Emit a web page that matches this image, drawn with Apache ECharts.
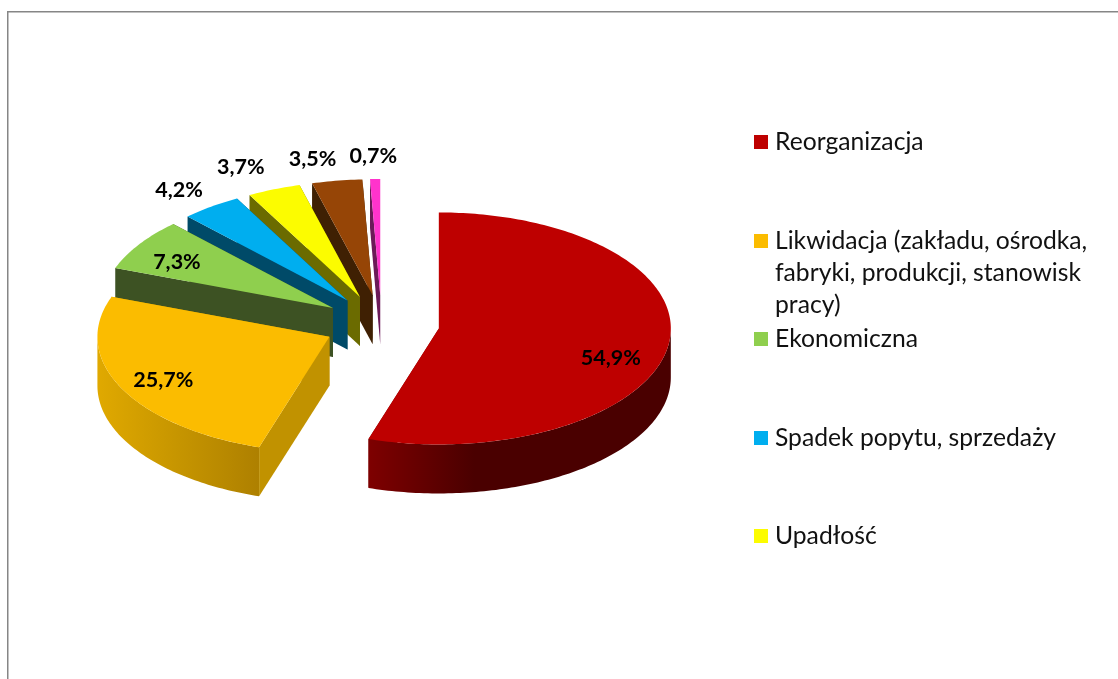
<!DOCTYPE html>
<html>
<head>
<meta charset="utf-8">
<script src="https://cdn.jsdelivr.net/npm/echarts@6/dist/echarts.min.js"></script>
<style>html,body{margin:0;padding:0;background:#fff}#c{width:1118px;height:679px}</style>
</head>
<body>
<div id="c"></div>
<script>
// Data. The reference legend only shows the first five names.
var categories = ['Reorganizacja', 'Likwidacja (zakładu, ośrodka, fabryki, produkcji, stanowisk pracy)', 'Ekonomiczna', 'Spadek popytu, sprzedaży', 'Upadłość'];
var values = [54.9, 25.7, 7.3, 4.2, 3.7, 3.5, 0.7];

// Styles
var topColors = ['#BE0000', '#FBBC00', '#8FCF4E', '#00AEEF', '#FCFC00', '#964506', '#FF33CC'];
var wallColors = ['#7A0000', '#C19200', '#3D5223', '#004A68', '#6B6B00', '#3F2003', '#6B1A58'];
var rimStops = [
  [[0, '#7E0000'], [0.35, '#4A0000'], [1, '#4A0000']],
  [[0, '#E0A900'], [0.5, '#C69500'], [1, '#AE8000']]
];
// Label position as fractions of the slice radius (horizontal, vertical)
var labelFractions = [[0.75, 1.66], [0.797, 0.84], [0.805, 0.73], [1.235, 1.18], [1.385, 1.205], [1.69, 1.19], [1.375, 1.20]];

// 3D projection layout
var CX = 381.5, CY = 324, RX = 232, RY = 116, DEPTH = 49, EXPLODE = 58;
var RAD = Math.PI / 180;

function pt(ox, oy, deg, dz) {
  return [ox + RX * Math.sin(deg * RAD), oy - RY * Math.cos(deg * RAD) + (dz || 0)];
}
function arc(ox, oy, a, b, dz) {
  var pts = [], n = Math.max(2, Math.ceil(Math.abs(b - a)));
  for (var i = 0; i <= n; i++) pts.push(pt(ox, oy, a + (b - a) * i / n, dz));
  return pts;
}
function fmt(v) { return v.toFixed(1).replace('.', ',') + '%'; }

function sliceRenderer(i) {
  return function (params, api) {
    var value = api.value(0);
    var total = values.reduce(function (s, v) { return s + v; }, 0);
    var before = values.slice(0, i).reduce(function (s, v) { return s + v; }, 0);
    var a0 = before / total * 360, a1 = a0 + value / total * 360, mid = (a0 + a1) / 2;
    var ox = CX + EXPLODE * Math.sin(mid * RAD);
    var oy = CY - EXPLODE * RY / RX * Math.cos(mid * RAD);
    var children = [];
    function face(deg) {
      var p = pt(ox, oy, deg);
      children.push({ type: 'polygon', shape: { points: [[ox, oy], p, [p[0], p[1] + DEPTH], [ox, oy + DEPTH]] }, style: { fill: wallColors[i] } });
    }
    face(a1); face(a0);
    var f0 = Math.max(a0, 90), f1 = Math.min(a1, 270);
    if (f1 > f0) {
      var stops = (rimStops[i] || [[0, wallColors[i]], [1, wallColors[i]]]).map(function (s) { return { offset: s[0], color: s[1] }; });
      children.push({
        type: 'polygon',
        shape: { points: arc(ox, oy, f0, f1, 0).concat(arc(ox, oy, f1, f0, DEPTH)) },
        style: { fill: new echarts.graphic.LinearGradient(0, 0, 1, 0, stops) }
      });
    }
    children.push({ type: 'polygon', shape: { points: [[ox, oy]].concat(arc(ox, oy, a0, a1, 0)) }, style: { fill: topColors[i] } });
    var lf = labelFractions[i];
    children.push({
      type: 'text', z2: 100,
      x: ox + RX * lf[0] * Math.sin(mid * RAD),
      y: oy - RY * lf[1] * Math.cos(mid * RAD),
      style: { text: fmt(value), fill: '#000', font: 'bold 21.5px Lato', align: 'center', verticalAlign: 'middle' }
    });
    return { type: 'group', children: children };
  };
}

// Painter order: back slices first
var series = values.map(function (v, i) {
  return {
    type: 'custom', name: categories[i] || ('slice ' + i), coordinateSystem: 'none', silent: true, clip: false,
    itemStyle: { color: topColors[i] }, animation: false,
    renderItem: sliceRenderer(i), data: [[v]]
  };
}).reverse();

var legendTops = [126, 161, 323, 422, 520];
var wrapped = { 1: '\n\nLikwidacja (zakładu, ośrodka,\nfabryki, produkcji, stanowisk\npracy)' };
var legends = categories.map(function (name, i) {
  return {
    data: [name], orient: 'vertical', left: 754, top: legendTops[i], padding: 0,
    itemWidth: 14, itemHeight: 14, icon: 'rect', selectedMode: false,
    formatter: function () { return wrapped[i] || name; },
    textStyle: { fontFamily: 'Lato', fontSize: 24.7, lineHeight: 32, color: '#111', padding: [0, 0, 0, 2] }
  };
});

var chart = echarts.init(document.getElementById('c'), null, { renderer: 'canvas' });
chart.setOption({
  backgroundColor: '#fff',
  animation: false,
  graphic: [{ type: 'rect', silent: true, shape: { x: 7.75, y: 11.75, width: 1300, height: 900 }, style: { fill: 'none', stroke: '#868686', lineWidth: 1.5 } }],
  legend: legends,
  series: series
});
</script>
</body>
</html>
